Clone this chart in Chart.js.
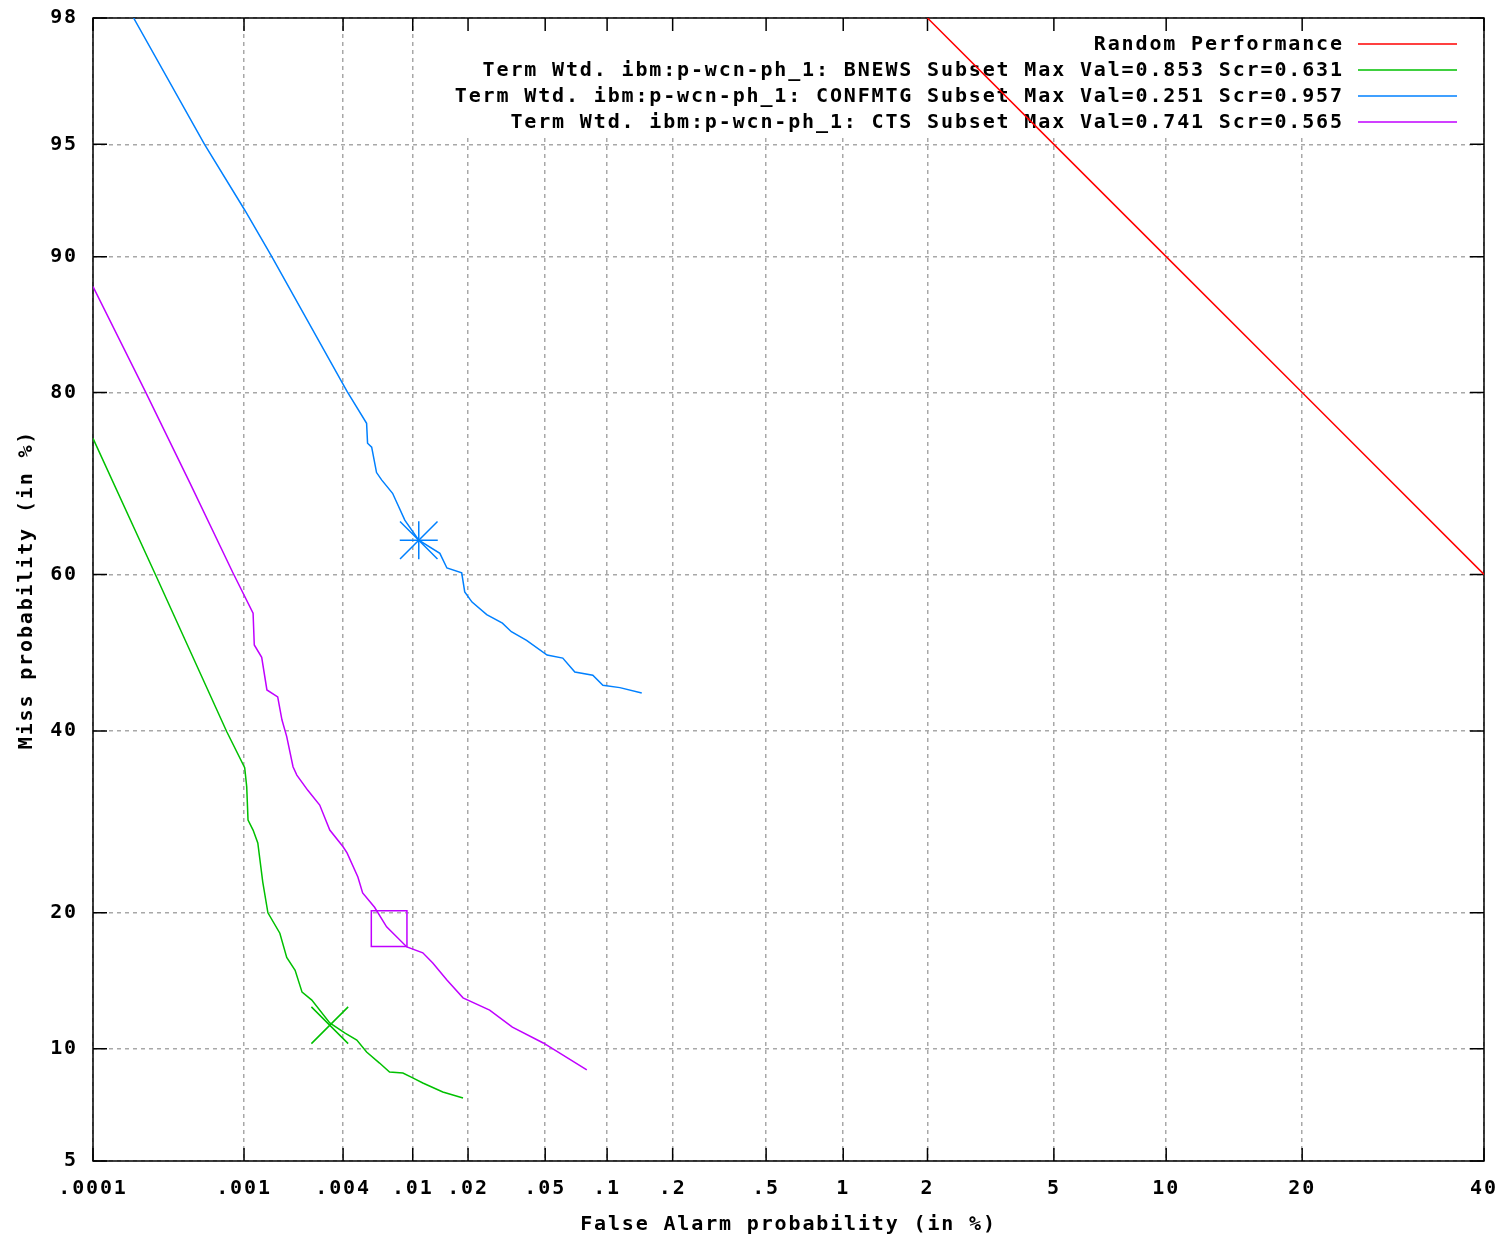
<!DOCTYPE html>
<html><head><meta charset="utf-8">
<script src="https://cdn.jsdelivr.net/npm/chart.js@4"></script>
<style>html,body{margin:0;padding:0;background:#fff}#wrap{width:1503px;height:1241px;position:relative}</style>
</head><body><div id="wrap"><canvas id="c"></canvas></div>
<script>
// ---- Data (percent) ----
const xTickValues = [0.0001, 0.001, 0.004, 0.01, 0.02, 0.05, 0.1, 0.2, 0.5, 1, 2, 5, 10, 20, 40];
const xTickLabels = ['.0001', '.001', '.004', '.01', '.02', '.05', '.1', '.2', '.5', '1', '2', '5', '10', '20', '40'];
const yTickValues = [5, 10, 20, 40, 60, 80, 90, 95, 98];
const yTickLabels = ['5', '10', '20', '40', '60', '80', '90', '95', '98'];

const legendLabels = [
  'Random Performance',
  'Term Wtd. ibm:p-wcn-ph_1: BNEWS Subset Max Val=0.853 Scr=0.631',
  'Term Wtd. ibm:p-wcn-ph_1: CONFMTG Subset Max Val=0.251 Scr=0.957',
  'Term Wtd. ibm:p-wcn-ph_1: CTS Subset Max Val=0.741 Scr=0.565'
];

const randomFa = [2, 5, 10, 20, 40];
const randomMiss = [98, 95, 90, 80, 60];

const bnewsFa = [0.0001, 0.000263, 0.000778, 0.00101, 0.00104, 0.00106, 0.00114, 0.00122, 0.00131, 0.00141, 0.00167, 0.00184, 0.00207, 0.00228, 0.00261, 0.00334, 0.00411, 0.00481, 0.00548, 0.00650, 0.00741, 0.00881, 0.0100, 0.01137, 0.01463, 0.0188];
const bnewsMiss = [75.6, 60.2, 39.9, 35.5, 33.2, 29.4, 28.3, 26.9, 22.9, 20.0, 18.2, 16.2, 15.2, 13.6, 13.05, 11.54, 10.92, 10.5, 9.81, 9.21, 8.74, 8.69, 8.44, 8.19, 7.76, 7.48];

const confFa = [0.00019, 0.00056, 0.00101, 0.00149, 0.00422, 0.00548, 0.00555, 0.00586, 0.00625, 0.00668, 0.00771, 0.00903, 0.0108, 0.0141, 0.0154, 0.0185, 0.0192, 0.0210, 0.0251, 0.0303, 0.0337, 0.0403, 0.0511, 0.0611, 0.0700, 0.0855, 0.0955, 0.1148, 0.145];
const confMiss = [98.0, 95.0, 92.4, 90.0, 80.1, 77.1, 75.1, 74.7, 72.0, 71.2, 69.7, 66.6, 64.2, 62.6, 60.8, 60.2, 57.8, 56.5, 54.9, 53.8, 52.7, 51.6, 49.7, 49.3, 47.5, 47.1, 45.8, 45.5, 44.8];

const ctsFa = [0.0001, 0.000226, 0.000449, 0.000851, 0.00114, 0.00116, 0.00129, 0.00139, 0.00162, 0.00172, 0.00184, 0.00201, 0.00212, 0.00247, 0.00291, 0.00334, 0.00400, 0.00422, 0.00488, 0.00520, 0.00609, 0.00713, 0.00927, 0.01137, 0.0129, 0.0154, 0.0188, 0.0260, 0.0341, 0.0489, 0.0800];
const ctsMiss = [88.2, 80.2, 70.9, 60.2, 55.1, 51.0, 49.4, 45.2, 44.3, 41.4, 39.3, 35.6, 34.6, 32.8, 31.1, 28.3, 26.5, 25.85, 23.4, 21.85, 20.5, 18.75, 17.05, 16.57, 15.77, 14.48, 13.2, 12.37, 11.28, 10.33, 8.85];

// Max-value markers
const bnewsMaxFa = [0.00334], bnewsMaxMiss = [11.4];
const confMaxFa = [0.0108], confMaxMiss = [64.2];
const ctsMaxFa = [0.00737], ctsMaxMiss = [18.59];

// ---- Normal deviate (probit) transform ----
function probit(p) {
  const a = [-3.969683028665376e+01, 2.209460984245205e+02, -2.759285104469687e+02, 1.383577518672690e+02, -3.066479806614716e+01, 2.506628277459239e+00];
  const b = [-5.447609879822406e+01, 1.615858368580409e+02, -1.556989798598866e+02, 6.680131188771972e+01, -1.328068155288572e+01];
  const c = [-7.784894002430293e-03, -3.223964580411365e-01, -2.400758277161838e+00, -2.549732539343734e+00, 4.374664141464968e+00, 2.938163982698783e+00];
  const d = [7.784695709041462e-03, 3.224671290700398e-01, 2.445134137142996e+00, 3.754408661907416e+00];
  const pl = 0.02425, ph = 1 - pl;
  let q, r;
  if (p < pl) { q = Math.sqrt(-2 * Math.log(p)); return (((((c[0]*q+c[1])*q+c[2])*q+c[3])*q+c[4])*q+c[5]) / ((((d[0]*q+d[1])*q+d[2])*q+d[3])*q+1); }
  if (p <= ph) { q = p - 0.5; r = q*q; return (((((a[0]*r+a[1])*r+a[2])*r+a[3])*r+a[4])*r+a[5])*q / (((((b[0]*r+b[1])*r+b[2])*r+b[3])*r+b[4])*r+1); }
  q = Math.sqrt(-2 * Math.log(1 - p));
  return -(((((c[0]*q+c[1])*q+c[2])*q+c[3])*q+c[4])*q+c[5]) / ((((d[0]*q+d[1])*q+d[2])*q+d[3])*q+1);
}
const pz = v => probit(v / 100);
const toXY = (fa, miss) => fa.map((f, i) => ({ x: pz(f), y: pz(miss[i]) }));

const FAMILY = '"DejaVu Sans Mono", "Liberation Mono", monospace';
const FONT = 'bold 20px ' + FAMILY;
const COLORS = ['#ff0000', '#00c000', '#0080ff', '#c000ff'];
const LS = 1.85;

const detPlugin = {
  id: 'det',
  beforeDraw(chart) { chart.ctx.letterSpacing = LS + 'px'; },
  beforeDatasetsDraw(chart) {
    const { ctx, chartArea: { left, top, right, bottom }, scales: { x, y } } = chart;
    ctx.save();
    ctx.font = FONT;
    // key area (opaque)
    const textRight = right - 142;
    let maxW = 0;
    legendLabels.forEach(t => { maxW = Math.max(maxW, ctx.measureText(t).width); });
    ctx.fillStyle = '#fff';
    ctx.fillRect(textRight - maxW - 12, top + 1, right - 1 - (textRight - maxW - 12), 116);
    // border
    ctx.strokeStyle = '#000';
    ctx.lineWidth = 1.5;
    ctx.strokeRect(left, top, right - left, bottom - top);
    // inward ticks
    ctx.beginPath();
    xTickValues.forEach(v => {
      const px = x.getPixelForValue(pz(v));
      ctx.moveTo(px, bottom); ctx.lineTo(px, bottom - 13);
      ctx.moveTo(px, top); ctx.lineTo(px, top + 13);
    });
    yTickValues.forEach(v => {
      const py = y.getPixelForValue(pz(v));
      ctx.moveTo(left, py); ctx.lineTo(left + 14, py);
      ctx.moveTo(right, py); ctx.lineTo(right - 14, py);
    });
    ctx.stroke();
    // key text and samples
    ctx.fillStyle = '#000';
    ctx.textAlign = 'right';
    ctx.textBaseline = 'middle';
    legendLabels.forEach((t, i) => {
      const ry = top + 26 + i * 26;
      ctx.fillText(t, textRight + LS, ry + 1);
      ctx.strokeStyle = COLORS[i];
      ctx.lineWidth = 1.5;
      ctx.beginPath(); ctx.moveTo(right - 126, ry); ctx.lineTo(right - 27, ry); ctx.stroke();
    });
    // axis titles
    ctx.textAlign = 'center';
    ctx.fillText('False Alarm probability (in %)', (left + right) / 2, bottom + 64);
    ctx.translate(27, (top + bottom) / 2);
    ctx.rotate(-Math.PI / 2);
    ctx.fillText('Miss probability (in %)', 0, 0);
    ctx.restore();
  }
};

const lineDs = (label, data, color) => ({
  label, data, showLine: true, borderColor: color, backgroundColor: color,
  borderWidth: 1.5, pointRadius: 0, tension: 0, fill: false, clip: 0
});
const markDs = (data, color, style, r) => ({
  data, showLine: false, borderColor: color, backgroundColor: 'rgba(0,0,0,0)',
  borderWidth: 1.5, pointRadius: r, pointStyle: style, clip: false
});
const zeroPad = s => { s.paddingTop = 0; s.paddingBottom = 0; s.paddingLeft = 0; s.paddingRight = 0; };

new Chart(document.getElementById('c'), {
  type: 'scatter',
  data: {
    datasets: [
      lineDs(legendLabels[0], toXY(randomFa, randomMiss), COLORS[0]),
      lineDs(legendLabels[1], toXY(bnewsFa, bnewsMiss), COLORS[1]),
      lineDs(legendLabels[2], toXY(confFa, confMiss), COLORS[2]),
      lineDs(legendLabels[3], toXY(ctsFa, ctsMiss), COLORS[3]),
      markDs(toXY(bnewsMaxFa, bnewsMaxMiss), COLORS[1], 'crossRot', 26),
      markDs(toXY(confMaxFa, confMaxMiss), COLORS[2], 'cross', 19),
      markDs(toXY(confMaxFa, confMaxMiss), COLORS[2], 'crossRot', 26.5),
      markDs(toXY(ctsMaxFa, ctsMaxMiss), COLORS[3], 'rect', 25.2)
    ]
  },
  options: {
    responsive: true, maintainAspectRatio: false, animation: false, events: [],
    layout: { autoPadding: false, padding: { top: 18, right: 19, left: 0, bottom: 0 } },
    plugins: { legend: { display: false }, tooltip: { enabled: false } },
    scales: {
      x: {
        type: 'linear', min: pz(xTickValues[0]), max: pz(xTickValues[xTickValues.length - 1]),
        afterBuildTicks: s => { s.ticks = xTickValues.map(v => ({ value: pz(v) })); },
        afterFit: s => { s.height = 80; zeroPad(s); },
        ticks: { autoSkip: false, maxRotation: 0, minRotation: 0, padding: 16, color: '#000',
          font: { family: FAMILY, size: 20, weight: 'bold' },
          callback: (v, i) => xTickLabels[i] },
        grid: { color: '#a8a8a8', lineWidth: 1.5, drawTicks: false },
        border: { display: false, dash: [4, 4] }
      },
      y: {
        type: 'linear', min: pz(yTickValues[0]), max: pz(yTickValues[yTickValues.length - 1]),
        afterBuildTicks: s => { s.ticks = yTickValues.map(v => ({ value: pz(v) })); },
        afterFit: s => { s.width = 93; zeroPad(s); },
        ticks: { autoSkip: false, padding: 15, color: '#000',
          font: { family: FAMILY, size: 20, weight: 'bold' },
          callback: (v, i) => yTickLabels[i] },
        grid: { color: '#a8a8a8', lineWidth: 1.5, drawTicks: false },
        border: { display: false, dash: [4, 4] }
      }
    }
  },
  plugins: [detPlugin]
});
</script>
</body></html>
